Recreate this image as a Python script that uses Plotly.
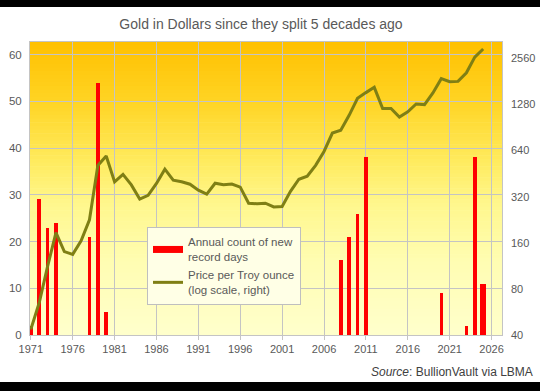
import plotly.graph_objects as go

# ---- data ----
bar_years = [1971, 1972, 1973, 1974, 1978, 1979, 1980,
             2008, 2009, 2010, 2011, 2020, 2023, 2024, 2025]
record_days = [2, 29, 23, 24, 21, 54, 5,
               16, 21, 26, 38, 9, 2, 38, 11]

price_years = list(range(1971, 2026))
gold_price = [43.5, 64.9, 112.3, 186.5, 140.3, 134.5, 165.0, 226.0, 512.0, 589.8,
              400.0, 448.0, 382.4, 309.0, 326.8, 390.9, 484.1, 410.3, 401.0, 386.2,
              353.2, 333.0, 391.8, 383.3, 387.0, 369.3, 290.2, 287.8, 290.3, 274.5,
              276.5, 347.2, 416.3, 435.6, 513.0, 632.0, 833.8, 869.8, 1087.5, 1405.5,
              1531.0, 1657.5, 1204.5, 1206.0, 1060.0, 1145.9, 1291.0, 1279.0, 1523.0, 1887.6,
              1805.9, 1812.4, 2062.4, 2610.0, 2950.0]

x_ticks = list(range(1971, 2027, 5))
left_ticks = [0, 10, 20, 30, 40, 50, 60]
right_ticks = [40, 80, 160, 320, 640, 1280, 2560]

bar_label = "Annual count of new<br>record days"
line_label = "Price per Troy ounce<br>(log scale, right)"
title_text = "Gold in Dollars since they split 5 decades ago"
source_text = "<i>Source</i>: BullionVault via LBMA"

# ---- styling ----
FONT = "Liberation Sans, Arial, sans-serif"
TXT = "#595959"
GRID = "#C4C4C4"
RED = "#FF0000"
OLIVE = "#7F7F14"
bar_width = [0.42] * (len(bar_years) - 1) + [0.7]

W, H = 540, 391
L, R, T, B = 30, 38, 42, 56
ph = H - T - B

fig = go.Figure()

fig.add_trace(go.Bar(x=bar_years, y=record_days, width=bar_width,
                     marker=dict(color=RED, line=dict(width=0)),
                     name=bar_label, showlegend=False, yaxis="y"))
fig.add_trace(go.Scatter(x=price_years, y=gold_price, mode="lines",
                         line=dict(color=OLIVE, width=3),
                         name=line_label, showlegend=False, yaxis="y2"))
# legend entries
fig.add_trace(go.Scatter(x=[None], y=[None], mode="lines",
                         line=dict(color=RED, width=7), name=bar_label))
fig.add_trace(go.Scatter(x=[None], y=[None], mode="lines",
                         line=dict(color=OLIVE, width=3), name=line_label))

# gradient background bands
stops = [(0.0, (255, 192, 0)), (0.2, (255, 212, 35)), (0.4, (255, 234, 92)),
         (0.55, (255, 247, 140)), (0.75, (255, 253, 178)), (1.0, (255, 255, 204))]


def col(f):
    for (a, ca), (b, cb) in zip(stops[:-1], stops[1:]):
        if a <= f <= b:
            t = (f - a) / (b - a)
            c = [round(ca[i] + (cb[i] - ca[i]) * t) for i in range(3)]
            return "rgb(%d,%d,%d)" % tuple(c)
    return "rgb(255,255,204)"


shapes = []
N = 80
for i in range(N):
    f = (i + 0.5) / N
    y1 = 1 - i / N
    y0 = 1 - (i + 1) / N
    shapes.append(dict(type="rect", xref="paper", yref="paper", x0=0, x1=1,
                       y0=y0 - 0.001, y1=y1 + 0.001, fillcolor=col(f),
                       line=dict(width=0), layer="below"))

# black letterbox bands top/bottom
px_to_py = lambda ypx: (H - B - ypx) / ph
px_to_px = lambda xpx: (xpx - L) / (W - L - R)
shapes.append(dict(type="rect", xref="paper", yref="paper",
                   x0=px_to_px(-5), x1=px_to_px(W + 5), y0=px_to_py(7), y1=px_to_py(-5),
                   fillcolor="black", line=dict(width=0), layer="above"))
shapes.append(dict(type="rect", xref="paper", yref="paper",
                   x0=px_to_px(-5), x1=px_to_px(W + 5), y0=px_to_py(H + 5), y1=px_to_py(382),
                   fillcolor="black", line=dict(width=0), layer="above"))

fig.update_layout(
    width=W, height=H,
    margin=dict(l=L, r=R, t=T, b=B, autoexpand=False),
    paper_bgcolor="white",
    plot_bgcolor="#FFFFCC",
    font=dict(family=FONT, color=TXT, size=11),
    title=dict(text=title_text, x=261 / W, xanchor="center",
               y=1 - 24 / H, yanchor="middle", yref="container",
               font=dict(size=14, color=TXT, family=FONT)),
    xaxis=dict(range=[1970.9, 2027.25], tickvals=x_ticks, showgrid=True,
               gridcolor=GRID, gridwidth=1, zeroline=False,
               showline=True, linecolor=GRID, mirror=True,
               ticks="outside", ticklen=4, tickcolor=GRID, automargin=False,
               tickfont=dict(size=11, color=TXT)),
    yaxis=dict(range=[0, 62.7], tickvals=left_ticks, showgrid=True,
               gridcolor=GRID, gridwidth=1, zeroline=False,
               showline=True, linecolor=GRID, mirror=True,
               ticks="", ticklabelstandoff=5, automargin=False,
               tickfont=dict(size=11.5, color=TXT)),
    yaxis2=dict(type="log", overlaying="y", side="right",
                range=[1.60206, 3.5155], tickvals=right_ticks,
                ticktext=[str(v) for v in right_ticks],
                showgrid=False, zeroline=False, showline=False,
                ticks="", ticklabelstandoff=8, automargin=False,
                tickfont=dict(size=11, color=TXT)),
    legend=dict(x=px_to_px(147), y=px_to_py(227), xanchor="left", yanchor="top",
                bgcolor="#FFFFE6", bordercolor="#BFBFBF", borderwidth=1,
                font=dict(size=11.5, color=TXT, family=FONT),
                itemwidth=30, tracegroupgap=6),
    shapes=shapes,
    annotations=[dict(text=source_text, xref="paper", yref="paper",
                      x=px_to_px(535), y=px_to_py(372), xanchor="right", yanchor="middle",
                      showarrow=False, font=dict(size=12, color="#404040", family=FONT))],
    bargap=0,
)

fig.write_html("out.html", config={"displayModeBar": False},
               post_script="document.body.style.margin='0px';")
